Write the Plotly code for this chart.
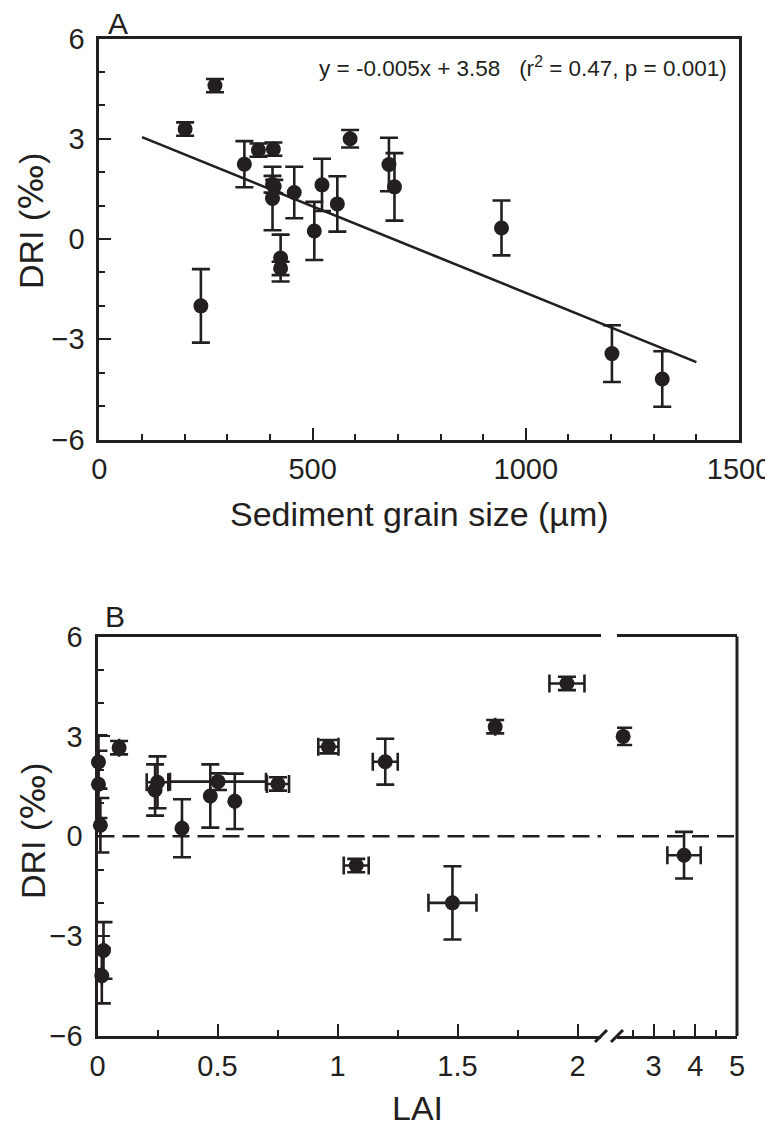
import numpy as np
import plotly.graph_objects as go

# ---------------- data (one entry per site) ----------------
grain_size = [201, 271, 238, 340, 373, 408, 406, 410, 406, 425, 425,
              457, 504, 522, 558, 588, 679, 692, 943, 1202, 1320]
lai = [1.657, 1.956, 1.479, 1.199, 0.090, 0.962, 0.502, 0.752, 0.470, 3.73, 1.078,
       0.240, 0.352, 0.250, 0.572, 2.27, 0.004, 0.004, 0.012, 0.025, 0.018]
dri = [3.29, 4.59, -2.00, 2.24, 2.66, 2.69, 1.64, 1.57, 1.21, -0.57, -0.88,
       1.39, 0.24, 1.62, 1.05, 3.00, 2.23, 1.56, 0.33, -3.43, -4.19]
dri_err = [0.2, 0.2, 1.10, 0.69, 0.2, 0.2, 0.25, 0.2, 0.95, 0.70, 0.2,
           0.77, 0.87, 0.78, 0.83, 0.26, 0.80, 1.01, 0.82, 0.85, 0.83]
lai_err = [0, 0.073, 0.10, 0.052, 0, 0.042, 0.20, 0.046, 0, 0.40, 0.052,
           0, 0, 0.045, 0, 0, 0, 0, 0, 0, 0]

fit_slope = -0.00518
fit_intercept = 3.568
fit_x = [100, 1400]

x_ticks_a = [0, 500, 1000, 1500]
y_ticks = [-6, -3, 0, 3, 6]
lai_ticks_1 = [0, 0.5, 1, 1.5, 2]
lai_ticks_2 = [3, 4, 5]
lai_minor_2 = [2.5, 3.5, 4.5]
lai_break = 2.1

# ---------------- styling ----------------
C = "#231f20"
FONT = "Liberation Sans, Arial, sans-serif"
PAGE_W, PAGE_H = 773, 1139
OFF = 8  # default body margin of the html page
W, H = PAGE_W - OFF, PAGE_H - OFF


def px(x):
    """page pixel x -> paper fraction"""
    return (x - OFF) / W


def py(y):
    """page pixel y -> paper fraction"""
    return 1 - (y - OFF) / H


marker = dict(size=15, color=C)
ebar = dict(type="data", color=C, thickness=2.6, width=9)

lai_a = np.array(lai)
dri_a = np.array(dri)
dri_err_a = np.array(dri_err)
lai_err_a = np.array(lai_err)
seg1 = lai_a <= lai_break
seg2 = ~seg1

fig = go.Figure()

# Panel A points
fig.add_trace(go.Scatter(
    x=grain_size, y=dri, mode="markers", marker=marker,
    error_y=dict(array=dri_err, **ebar),
    xaxis="x", yaxis="y", cliponaxis=False, showlegend=False))

# Panel A regression line
fit_y = [fit_slope * v + fit_intercept for v in fit_x]
fig.add_trace(go.Scatter(
    x=fit_x, y=fit_y, mode="lines", line=dict(color=C, width=2.6),
    xaxis="x", yaxis="y", showlegend=False))

# Panel B points, first segment
fig.add_trace(go.Scatter(
    x=lai_a[seg1], y=dri_a[seg1], mode="markers", marker=marker,
    error_y=dict(array=dri_err_a[seg1], **ebar),
    error_x=dict(array=lai_err_a[seg1], **ebar),
    xaxis="x2", yaxis="y2", cliponaxis=False, showlegend=False))

# Panel B points, second segment (after axis break)
fig.add_trace(go.Scatter(
    x=lai_a[seg2], y=dri_a[seg2], mode="markers", marker=marker,
    error_y=dict(array=dri_err_a[seg2], **ebar),
    error_x=dict(array=lai_err_a[seg2], **ebar),
    xaxis="x3", yaxis="y2", cliponaxis=False, showlegend=False))

tickfont = dict(family=FONT, size=29, color=C)
axis_common = dict(
    showline=True, linecolor=C, linewidth=3,
    ticks="inside", tickcolor=C, tickwidth=2, ticklen=12,
    showgrid=False, zeroline=False, tickfont=tickfont, automargin=False,
)

# domains (page pixel based)
A_left, A_right, A_top, A_bot = 99.4, 739, 38.5, 439.5
B_left, B_brk1, B_brk2, B_right, B_top, B_bot = 97.5, 601, 617, 737, 636.5, 1036

XSTAND = 2
YSTAND = 6

fig.update_layout(
    template="none",
    width=W, height=H,
    margin=dict(l=0, r=0, t=0, b=0),
    paper_bgcolor="white", plot_bgcolor="white",
    showlegend=False,
    xaxis=dict(**axis_common, domain=[px(A_left), px(A_right)], anchor="y",
               range=[0, 1500], tickvals=x_ticks_a, mirror=True,
               ticklabelstandoff=XSTAND,
               minor=dict(ticks="inside", ticklen=6, tickwidth=2, tickcolor=C,
                          dtick=100, tick0=0, showgrid=False)),
    yaxis=dict(**axis_common, domain=[py(A_bot), py(A_top)], anchor="x",
               range=[-6, 6], tickvals=y_ticks, mirror=True,
               ticklabelstandoff=YSTAND,
               minor=dict(ticks="inside", ticklen=6, tickwidth=2, tickcolor=C,
                          dtick=1, tick0=0, showgrid=False)),
    xaxis2=dict(**axis_common, domain=[px(B_left), px(B_brk1)], anchor="y2",
                range=[0, (B_brk1 - B_left) / 240.0], tickvals=lai_ticks_1,
                ticktext=["0", "0.5", "1", "1.5", "2"], mirror=True,
                ticklabelstandoff=XSTAND,
                minor=dict(ticks="inside", ticklen=6, tickwidth=2, tickcolor=C,
                           dtick=0.25, tick0=0, showgrid=False)),
    xaxis3=dict(**axis_common, domain=[px(B_brk2), px(B_right)], anchor="y2",
                range=[5 - (B_right - B_brk2) / 41.7, 5], tickvals=lai_ticks_2,
                mirror=True, ticklabelstandoff=XSTAND,
                minor=dict(ticks="inside", ticklen=6, tickwidth=2, tickcolor=C,
                           tickvals=lai_minor_2, showgrid=False)),
    yaxis2=dict(**axis_common, domain=[py(B_bot), py(B_top)], anchor="x2",
                range=[-6, 6], tickvals=y_ticks, ticklabelstandoff=YSTAND,
                minor=dict(ticks="inside", ticklen=6, tickwidth=2, tickcolor=C,
                           dtick=1, tick0=0, showgrid=False)),
)

shapes = []
# right border of panel B
shapes.append(dict(type="line", xref="x3 domain", yref="y2 domain",
                   x0=1, x1=1, y0=0, y1=1, line=dict(color=C, width=3)))
# dashed zero line in both segments
shapes.append(dict(type="line", xref="x2 domain", yref="y2",
                   x0=0, x1=1, y0=0, y1=0,
                   line=dict(color=C, width=2.6, dash="17px,8px")))
shapes.append(dict(type="line", xref="x3 domain", yref="y2",
                   x0=0, x1=1, y0=0, y1=0,
                   line=dict(color=C, width=2.6, dash="17px,8px")))
# axis break marks
for cx in (B_brk1, B_brk2):
    shapes.append(dict(type="line", xref="paper", yref="paper",
                       x0=px(cx - 6), x1=px(cx + 6),
                       y0=py(B_bot + 6), y1=py(B_bot - 6),
                       line=dict(color=C, width=3)))
fig.update_layout(shapes=shapes)

PERMIL = "<span style='font-family:DejaVu Sans'>‰</span>"
ann = [
    dict(text="A", x=px(118), y=py(23), font=dict(family=FONT, size=30, color=C)),
    dict(text="B", x=px(115), y=py(616), font=dict(family=FONT, size=30, color=C)),
    dict(text="y = -0.005x + 3.58   (r<sup>2</sup> = 0.47, p = 0.001)",
         x=px(729), y=py(67), xanchor="right",
         font=dict(family=FONT, size=22.5, color=C)),
    dict(text="DRI (" + PERMIL + ")", x=px(31), y=py(221), textangle=-90,
         font=dict(family=FONT, size=34, color=C)),
    dict(text="Sediment grain size (µm)", x=px(419), y=py(514),
         font=dict(family=FONT, size=34, color=C)),
    dict(text="DRI (" + PERMIL + ")", x=px(33), y=py(831), textangle=-90,
         font=dict(family=FONT, size=34, color=C)),
    dict(text="LAI", x=px(417), y=py(1108), font=dict(family=FONT, size=34, color=C)),
]
for a in ann:
    a.setdefault("xanchor", "center")
    a.update(xref="paper", yref="paper", yanchor="middle", showarrow=False)
fig.update_layout(annotations=ann)

fig.write_html("out.html")
